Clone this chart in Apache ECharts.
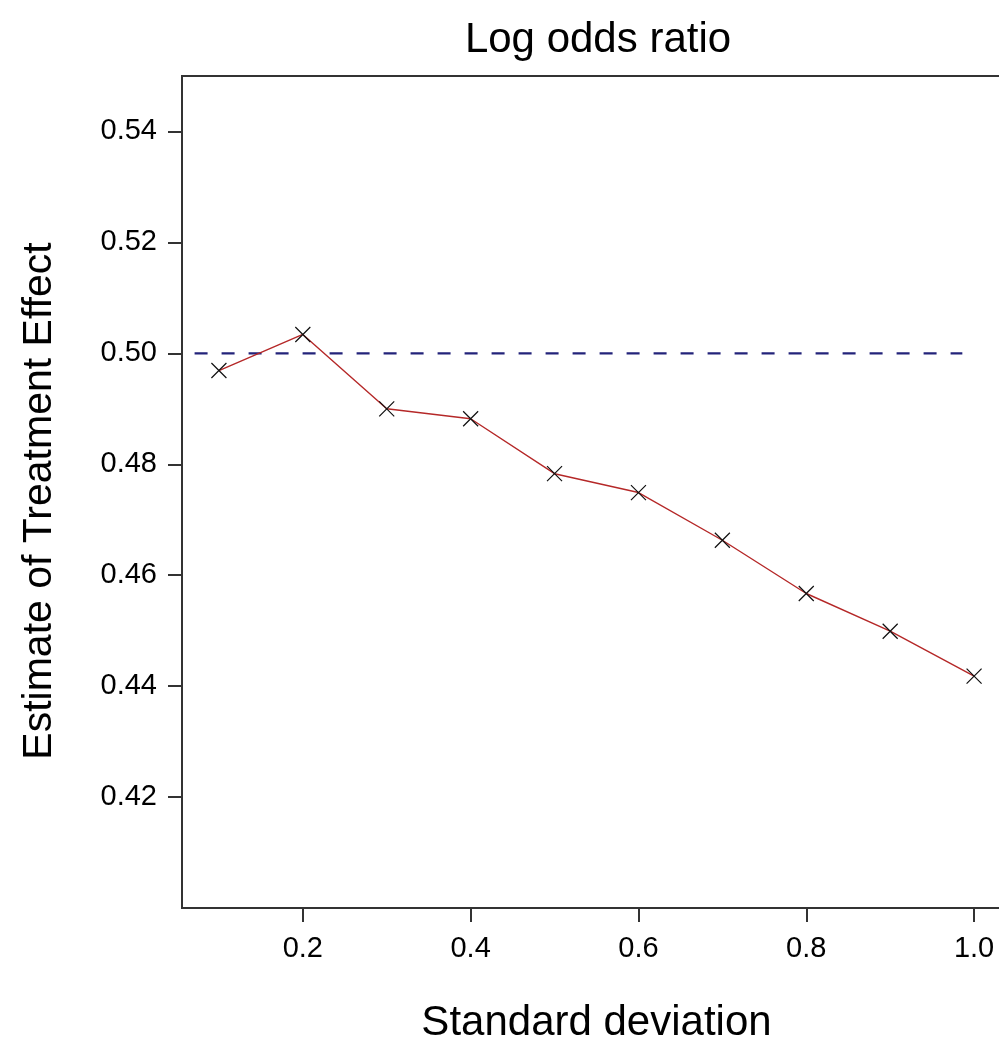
<!DOCTYPE html>
<html>
<head>
<meta charset="utf-8">
<script src="https://cdn.jsdelivr.net/npm/echarts@6/dist/echarts.min.js"></script>
<style>
html,body{margin:0;padding:0;background:#fff;}
#chart{width:999px;height:1042px;}
</style>
</head>
<body>
<div id="chart"></div>
<script>
// Data
var sdValues = [0.1, 0.2, 0.3, 0.4, 0.5, 0.6, 0.7, 0.8, 0.9, 1.0];
var estimates = [0.4969, 0.5034, 0.4900, 0.4882, 0.4783, 0.4749, 0.4663, 0.4567, 0.4499, 0.4418];
var refX = [0.071, 0.986];
var refY = [0.5, 0.5];
var xTicks = [0.2, 0.4, 0.6, 0.8, 1.0];
var yTicks = [0.42, 0.44, 0.46, 0.48, 0.50, 0.52, 0.54];

var FONT = '"Liberation Sans", Arial, sans-serif';

var chart = echarts.init(document.getElementById('chart'), null, {renderer: 'canvas'});
var option = {
  backgroundColor: '#ffffff',
  animation: false,
  title: {
    text: 'Log odds ratio',
    left: 593,
    top: 14,
    textAlign: 'center',
    textStyle: {fontFamily: FONT, fontSize: 42, fontWeight: 'normal', color: '#000'}
  },
  grid: {
    left: 182, top: 76, width: 829, height: 832,
    containLabel: false, outerBoundsMode: 'none',
    show: true, borderColor: '#333', borderWidth: 2, backgroundColor: 'transparent'
  },
  xAxis: {
    type: 'value', min: 0.056, max: 1.044,
    name: 'Standard deviation', nameLocation: 'middle', nameGap: 94,
    nameTextStyle: {fontFamily: FONT, fontSize: 42, color: '#000'},
    axisLine: {show: true, onZero: false, lineStyle: {color: '#333', width: 2}},
    axisTick: {show: true, length: 14, customValues: xTicks, lineStyle: {color: '#333', width: 2}},
    axisLabel: {customValues: xTicks, margin: 26, fontFamily: FONT, fontSize: 29, color: '#000',
      hideOverlap: false, showMaxLabel: true, showMinLabel: true,
      formatter: function (v) { return v.toFixed(1); }},
    splitLine: {show: false}
  },
  yAxis: {
    type: 'value', min: 0.40, max: 0.55,
    name: 'Estimate of Treatment Effect', nameLocation: 'middle', nameGap: 122,
    nameTextStyle: {fontFamily: FONT, fontSize: 41, color: '#000', padding: [0, 18, 0, 0]},
    axisLine: {show: true, onZero: false, lineStyle: {color: '#333', width: 2}},
    axisTick: {show: true, length: 14, customValues: yTicks, lineStyle: {color: '#333', width: 2}},
    axisLabel: {customValues: yTicks, margin: 25, fontFamily: FONT, fontSize: 29, color: '#000',
      formatter: function (v) { return v.toFixed(2); }},
    splitLine: {show: false}
  },
  series: [
    {
      type: 'line',
      data: refX.map(function (x, i) { return [x, refY[i]]; }),
      showSymbol: false,
      symbol: 'none',
      lineStyle: {color: '#23237a', width: 2.2, type: [13, 14]},
      z: 2
    },
    {
      type: 'line',
      data: sdValues.map(function (x, i) { return [x, estimates[i]]; }),
      symbol: 'path://M0,0L10,10M10,0L0,10',
      symbolSize: 15,
      showSymbol: true,
      itemStyle: {color: 'transparent', borderColor: '#111', borderWidth: 1.2},
      lineStyle: {color: '#b52828', width: 1.4},
      z: 3
    }
  ]
};
chart.setOption(option);
</script>
</body>
</html>
